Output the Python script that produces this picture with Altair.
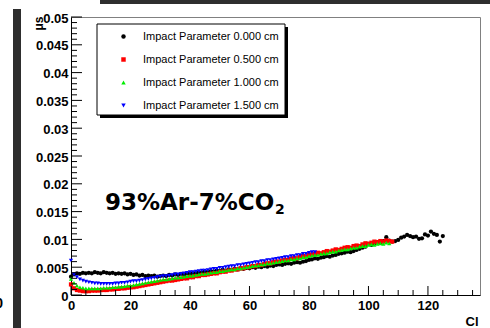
import altair as alt
import pandas as pd

# ---------------- data ----------------
series_labels = [
    "Impact Parameter 0.000 cm",
    "Impact Parameter 0.500 cm",
    "Impact Parameter 1.000 cm",
    "Impact Parameter 1.500 cm",
]
series_colors = ["#000000", "#ff0000", "#00ee00", "#0000ff"]
series_shapes = ["circle", "square", "triangle-up", "triangle-down"]

# Cl = 0, 1, 2, ... (one point per unit)
ip0 = [0.0033, 0.0037, 0.0039, 0.0038, 0.0040, 0.0039, 0.0040, 0.0039, 0.0041, 0.0040,
       0.0039, 0.0041, 0.0040, 0.0039, 0.0040, 0.0038, 0.0039, 0.0038, 0.0039, 0.0037,
       0.0038, 0.0036, 0.0037, 0.0035, 0.0036, 0.0034, 0.0035, 0.0034, 0.0035, 0.0033,
       0.0034, 0.0035, 0.0034, 0.0036, 0.0035, 0.0037, 0.0036, 0.0038, 0.0037, 0.0039,
       0.0038, 0.0040, 0.0039, 0.0041, 0.0040, 0.0042, 0.0041, 0.0043, 0.0042, 0.0044,
       0.0043, 0.0045, 0.0044, 0.0046, 0.0045, 0.0047, 0.0046, 0.0048, 0.0047, 0.0049,
       0.0048, 0.0050, 0.0049, 0.0051, 0.0050, 0.0052, 0.0051, 0.0053, 0.0052, 0.0054,
       0.0055, 0.0054, 0.0056, 0.0057, 0.0056, 0.0058, 0.0059, 0.0058, 0.0060, 0.0061,
       0.0063, 0.0064, 0.0066, 0.0065, 0.0067, 0.0068, 0.0070, 0.0069, 0.0071, 0.0072,
       0.0074, 0.0075, 0.0076, 0.0078, 0.0077, 0.0079, 0.0081, 0.0083, 0.0085, 0.0087,
       0.0092, 0.0090, 0.0093, 0.0095, 0.0094, 0.0097, 0.0104, 0.0098, 0.0096, 0.0097,
       0.0099, 0.0103, 0.0105, 0.0108, 0.0106, 0.0104, 0.0105, 0.0101, 0.0102, 0.0109,
       0.0107, 0.0114, 0.0110, 0.0108, 0.0096, 0.0106]

ip05 = [0.0019, 0.0012, 0.0009, 0.0008, 0.0007, 0.0007, 0.0007, 0.0008, 0.0008, 0.0008,
        0.0009, 0.0009, 0.0009, 0.0010, 0.0010, 0.0011, 0.0011, 0.0012, 0.0012, 0.0013,
        0.0014, 0.0014, 0.0015, 0.0016, 0.0017, 0.0018, 0.0019, 0.0020, 0.0021, 0.0022,
        0.0023, 0.0024, 0.0025, 0.0026, 0.0026, 0.0027, 0.0028, 0.0029, 0.0030, 0.0030,
        0.0032, 0.0032, 0.0034, 0.0034, 0.0036, 0.0036, 0.0037, 0.0038, 0.0039, 0.0039,
        0.0041, 0.0042, 0.0042, 0.0044, 0.0044, 0.0046, 0.0046, 0.0048, 0.0048, 0.0050,
        0.0050, 0.0052, 0.0052, 0.0054, 0.0054, 0.0056, 0.0057, 0.0057, 0.0059, 0.0060,
        0.0060, 0.0062, 0.0063, 0.0063, 0.0065, 0.0066, 0.0066, 0.0068, 0.0070, 0.0069,
        0.0072, 0.0073, 0.0074, 0.0076, 0.0075, 0.0077, 0.0079, 0.0078, 0.0080, 0.0082,
        0.0081, 0.0083, 0.0085, 0.0086, 0.0085, 0.0088, 0.0089, 0.0088, 0.0091, 0.0093,
        0.0092, 0.0094, 0.0096, 0.0095, 0.0097, 0.0096, 0.0098, 0.0097, 0.0096]

ip10 = [0.0029, 0.0022, 0.0017, 0.0014, 0.0013, 0.0012, 0.0012, 0.0012, 0.0012, 0.0012,
        0.0012, 0.0013, 0.0013, 0.0013, 0.0014, 0.0014, 0.0015, 0.0015, 0.0016, 0.0017,
        0.0017, 0.0018, 0.0019, 0.0020, 0.0021, 0.0022, 0.0023, 0.0024, 0.0025, 0.0026,
        0.0027, 0.0028, 0.0028, 0.0029, 0.0030, 0.0031, 0.0031, 0.0032, 0.0033, 0.0034,
        0.0035, 0.0035, 0.0036, 0.0037, 0.0038, 0.0038, 0.0039, 0.0040, 0.0041, 0.0041,
        0.0043, 0.0043, 0.0044, 0.0045, 0.0046, 0.0046, 0.0048, 0.0048, 0.0049, 0.0050,
        0.0051, 0.0052, 0.0053, 0.0053, 0.0055, 0.0055, 0.0057, 0.0057, 0.0058, 0.0059,
        0.0060, 0.0061, 0.0062, 0.0062, 0.0064, 0.0064, 0.0066, 0.0066, 0.0068, 0.0068,
        0.0070, 0.0071, 0.0072, 0.0072, 0.0074, 0.0075, 0.0075, 0.0077, 0.0078, 0.0078,
        0.0080, 0.0081, 0.0082, 0.0082, 0.0084, 0.0085, 0.0085, 0.0087, 0.0088, 0.0088,
        0.0090, 0.0091, 0.0090, 0.0092, 0.0093, 0.0092, 0.0094, 0.0093]

ip15 = [0.0062, 0.0037, 0.0032, 0.0028, 0.0026, 0.0024, 0.0023, 0.0022, 0.0021, 0.0021,
        0.0020, 0.0020, 0.0020, 0.0020, 0.0020, 0.0021, 0.0021, 0.0022, 0.0022, 0.0023,
        0.0024, 0.0025, 0.0025, 0.0026, 0.0027, 0.0028, 0.0029, 0.0030, 0.0031, 0.0032,
        0.0033, 0.0034, 0.0034, 0.0035, 0.0036, 0.0037, 0.0037, 0.0038, 0.0039, 0.0040,
        0.0041, 0.0041, 0.0042, 0.0043, 0.0044, 0.0044, 0.0045, 0.0046, 0.0047, 0.0047,
        0.0049, 0.0049, 0.0050, 0.0051, 0.0052, 0.0052, 0.0054, 0.0054, 0.0055, 0.0056,
        0.0057, 0.0058, 0.0059, 0.0059, 0.0061, 0.0061, 0.0063, 0.0063, 0.0064, 0.0065,
        0.0066, 0.0067, 0.0068, 0.0068, 0.0070, 0.0070, 0.0072, 0.0072, 0.0074, 0.0074,
        0.0076, 0.0077, 0.0077]

x_tick_labels = [0, 20, 40, 60, 80, 100, 120]
y_tick_labels = [0, 0.005, 0.01, 0.015, 0.02, 0.025, 0.03, 0.035, 0.04, 0.045, 0.05]
x_minor_ticks = [v for v in range(0, 140, 5) if v % 20 != 0]
y_minor_ticks = [round(i * 0.001, 3) for i in range(0, 51) if i % 5 != 0]

X_DOMAIN = [0, 137.5]
Y_DOMAIN = [0, 0.05]
W, H = 409, 278
FONT = "Liberation Sans"

rows = []
for lab, vals in zip(series_labels, [ip0, ip05, ip10, ip15]):
    for i, v in enumerate(vals):
        rows.append({"Cl": i, "t": v, "series": lab})
df = pd.DataFrame(rows)

xs = alt.Scale(domain=X_DOMAIN, nice=False, zero=False)
ys = alt.Scale(domain=Y_DOMAIN, nice=False, zero=False)

x_axis = alt.Axis(
    values=x_tick_labels, format="d", ticks=False, grid=False,
    domainColor="black", domainWidth=1,
    labelFont=FONT, labelFontWeight="bold", labelFontSize=13, labelColor="black",
    labelPadding=4, labelFlush=False, labelOverlap=False,
    title="Cl", titleX=407, titleY=30, titleAlign="right",
    titleBaseline="alphabetic", titleFont=FONT, titleFontWeight="bold",
    titleFontSize=13, titleColor="black")
y_axis = alt.Axis(
    values=y_tick_labels, ticks=False, grid=False,
    labelExpr="datum.value == 0 ? '0' : format(datum.value, '.3~f')",
    domainColor="black", domainWidth=1,
    labelFont=FONT, labelFontWeight="bold", labelFontSize=13, labelColor="black",
    labelPadding=3, labelFlush=False, labelOverlap=False, labelOffset=1,
    title="μs", titleX=-33, titleY=6, titleAngle=270, titleAlign="center",
    titleBaseline="middle", titleFont=FONT, titleFontWeight="bold",
    titleFontSize=12, titleColor="black")

legend = alt.Legend(
    orient="none", legendX=47, legendY=14, title=None, direction="vertical",
    labelFont=FONT, labelFontSize=11, labelColor="black", labelFontWeight="normal",
    symbolSize=20, rowPadding=11, labelOffset=14, padding=0,
    symbolStrokeWidth=0,
)

points = alt.Chart(df).mark_point(filled=True, size=18, opacity=1).encode(
    x=alt.X("Cl:Q", scale=xs, axis=x_axis, title="Cl"),
    y=alt.Y("t:Q", scale=ys, axis=y_axis, title="μs"),
    color=alt.Color("series:N", scale=alt.Scale(domain=series_labels, range=series_colors),
                    legend=legend),
    shape=alt.Shape("series:N", scale=alt.Scale(domain=series_labels, range=series_shapes),
                    legend=legend),
)

# inward ROOT-style ticks drawn through the shared scales
xmaj = alt.Chart(pd.DataFrame({"v": x_tick_labels})).mark_rule(color="black").encode(
    x=alt.X("v:Q", scale=xs, axis=x_axis, title="Cl"), y=alt.value(H), y2=alt.value(H - 9))
xmin = alt.Chart(pd.DataFrame({"v": x_minor_ticks})).mark_rule(color="black").encode(
    x=alt.X("v:Q", scale=xs, axis=x_axis, title="Cl"), y=alt.value(H), y2=alt.value(H - 5))
ymaj = alt.Chart(pd.DataFrame({"v": y_tick_labels})).mark_rule(color="black").encode(
    y=alt.Y("v:Q", scale=ys, axis=y_axis, title="μs"), x=alt.value(0), x2=alt.value(11))
ymin = alt.Chart(pd.DataFrame({"v": y_minor_ticks})).mark_rule(color="black").encode(
    y=alt.Y("v:Q", scale=ys, axis=y_axis, title="μs"), x=alt.value(0), x2=alt.value(6))

one = pd.DataFrame({"k": [0]})
shadow = alt.Chart(one).mark_rect(color="black").encode(
    x=alt.value(29), x2=alt.value(217), y=alt.value(10), y2=alt.value(101))
box = alt.Chart(one).mark_rect(fill="white", stroke="black", strokeWidth=1).encode(
    x=alt.value(26), x2=alt.value(214), y=alt.value(7), y2=alt.value(98))

title_main = alt.Chart(pd.DataFrame({"s": ["93%Ar-7%CO"]})).mark_text(
    font="DejaVu Sans", fontWeight="bold", fontSize=23, align="left",
    baseline="alphabetic", color="black").encode(
    text="s:N", x=alt.value(34), y=alt.value(193))
title_sub = alt.Chart(pd.DataFrame({"s": ["2"]})).mark_text(
    font="DejaVu Sans", fontWeight="bold", fontSize=14, align="left",
    baseline="alphabetic", color="black").encode(
    text="s:N", x=alt.value(204), y=alt.value(197))

# dark strips from neighbouring panels
left_bar = alt.Chart(one).mark_rect(color="#2e2e2e").encode(
    x=alt.value(-58), x2=alt.value(-50), y=alt.value(-8), y2=alt.value(311))
top_bar = alt.Chart(one).mark_rect(color="#2e2e2e").encode(
    x=alt.value(29), x2=alt.value(419), y=alt.value(-17), y2=alt.value(-13))
frag = alt.Chart(pd.DataFrame({"s": ["0"]})).mark_text(
    font=FONT, fontWeight="bold", fontSize=14, align="right", baseline="alphabetic",
    color="black").encode(text="s:N", x=alt.value(-68), y=alt.value(291))

chart = alt.layer(
    points, left_bar, top_bar, frag, shadow, box, xmin, xmaj, ymin, ymaj, title_main, title_sub
).properties(
    width=W, height=H,
    padding={"left": 71, "top": 17, "right": 10, "bottom": 33},
    autosize=alt.AutoSizeParams(type="none"),
    background="white",
).configure_view(stroke="#808080", strokeWidth=1)

chart.save("out.html", embed_options={"renderer": "svg", "actions": False})
